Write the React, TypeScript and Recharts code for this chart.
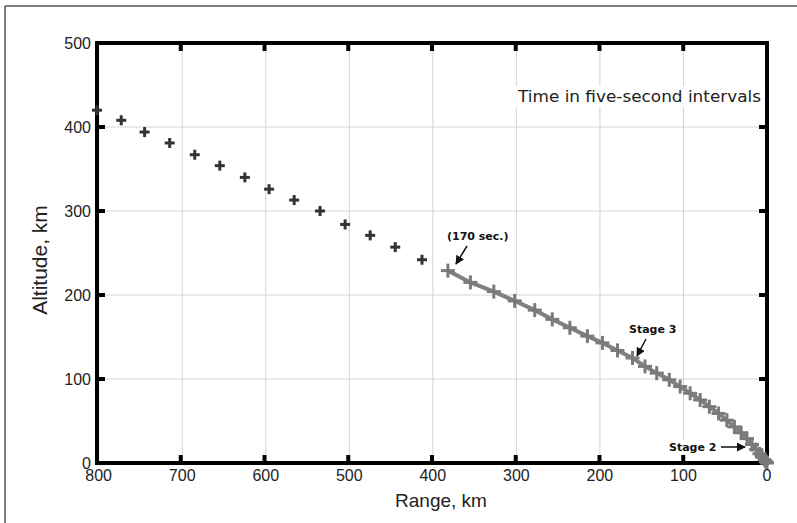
import React from 'react';
import { ScatterChart, Scatter, XAxis, YAxis, CartesianGrid } from 'recharts';

const rangeTicks = [800, 700, 600, 500, 400, 300, 200, 100, 0];
const altitudeTicks = [0, 100, 200, 300, 400, 500];
const innerRangeTicks = [700, 600, 500, 400, 300, 200, 100];
const innerAltitudeTicks = [100, 200, 300, 400];

// coasting phase (dark markers)
const coastRange = [802, 773, 745, 715, 685, 655, 625, 596, 566, 535, 505, 475, 445, 413];
const coastAltitude = [420, 408, 394, 381, 367, 354, 340, 326, 313, 300, 284, 271, 257, 242];

// powered phase (gray line with markers)
const poweredRange = [382, 355, 327, 302, 278, 257, 236, 215, 197, 179, 161, 146, 132, 117, 104, 92, 80, 69, 58, 48, 39, 31, 24, 18, 13, 9, 6, 3, 1.5, 0.5, 0];
const poweredAltitude = [229, 215, 204, 193, 182, 171, 161, 151, 143, 134, 125, 115, 107, 99, 91, 83, 75, 67, 59, 51, 43, 36, 29, 22, 16, 11, 7, 4, 2, 0.5, 0];

const coastData = coastRange.map((r, i) => ({ range: r, altitude: coastAltitude[i] }));
const poweredData = poweredRange.map((r, i) => ({ range: r, altitude: poweredAltitude[i] }));

const annFont = { fontFamily: '"DejaVu Sans", Verdana, sans-serif', fontWeight: 700, fontSize: 11, fill: '#111' };
const labelFamily = '"Liberation Sans", Arial, sans-serif';

const CHART_W = 797;
const CHART_H = 523;
const MARGIN = { top: 43, right: 30, bottom: 30, left: 47 };
const X_AXIS_H = 30;
const Y_AXIS_W = 50;
const PLOT_L = MARGIN.left + Y_AXIS_W;
const PLOT_T = MARGIN.top;
const PLOT_W = CHART_W - MARGIN.left - MARGIN.right - Y_AXIS_W;
const PLOT_H = CHART_H - MARGIN.top - MARGIN.bottom - X_AXIS_H;
const X_MAX = 800;
const Y_MAX = 500;
const TICK_LEN = 8;

const Plus = (size: number, color: string, width: number) => (props: any) => {
  const { cx, cy } = props;
  if (cx == null || cy == null) return null;
  return (
    <g>
      <line x1={cx - size} y1={cy} x2={cx + size} y2={cy} stroke={color} strokeWidth={width} />
      <line x1={cx} y1={cy - size} x2={cx} y2={cy + size} stroke={color} strokeWidth={width} />
    </g>
  );
};

const tickStyle = { fill: '#222', fontSize: 16, fontFamily: labelFamily };
const frameLine = { stroke: '#000', strokeWidth: 4, strokeLinecap: 'square' as const };

// inward tick marks on all four sides of the frame (axis decoration)
const xPos = (v: number) => PLOT_L + ((X_MAX - v) / X_MAX) * PLOT_W;
const yPos = (v: number) => PLOT_T + PLOT_H - (v / Y_MAX) * PLOT_H;

export default function App() {
  return (
    <div style={{ position: 'absolute', left: 0, top: 0, width: CHART_W, height: CHART_H, background: '#fff', overflow: 'hidden' }}>
      <ScatterChart width={CHART_W} height={CHART_H} margin={MARGIN}>
        <defs>
          <marker id="arrowHead" viewBox="0 0 10 10" refX="9" refY="5" markerWidth="6" markerHeight="6" orient="auto">
            <path d="M0,0 L10,5 L0,10 z" fill="#111" />
          </marker>
        </defs>
        <line x1={5} y1={6} x2={5} y2={523} stroke="#555" strokeWidth={1.5} />
        <line x1={5} y1={6} x2={797} y2={6} stroke="#555" strokeWidth={1.5} />
        <CartesianGrid xAxisId="main" yAxisId="main" stroke="#d4d4d4" strokeWidth={1} />
        <XAxis xAxisId="main" type="number" dataKey="range" domain={[0, 800]} reversed ticks={rangeTicks} interval={0}
          tickLine={false} axisLine={frameLine} tick={tickStyle} tickSize={6} tickMargin={1} height={X_AXIS_H} />
        <XAxis xAxisId="top" type="number" dataKey="range" domain={[0, 800]} reversed ticks={rangeTicks} interval={0}
          orientation="top" mirror tick={false} tickLine={false} axisLine={frameLine} />
        <YAxis yAxisId="main" type="number" dataKey="altitude" domain={[0, 500]} ticks={altitudeTicks} interval={0}
          tickLine={false} axisLine={frameLine} tick={tickStyle} tickSize={5} tickMargin={1} width={Y_AXIS_W} />
        <YAxis yAxisId="right" type="number" dataKey="altitude" domain={[0, 500]} ticks={altitudeTicks} interval={0}
          orientation="right" mirror tick={false} tickLine={false} axisLine={frameLine} />
        <Scatter xAxisId="main" yAxisId="main" data={coastData} shape={Plus(5, '#333', 3)} isAnimationActive={false} />
        <Scatter xAxisId="main" yAxisId="main" data={poweredData} line={{ stroke: '#808080', strokeWidth: 4 }} lineType="joint"
          shape={Plus(7, '#7a7a7a', 3)} isAnimationActive={false} />

        {innerRangeTicks.map((v) => (
          <g key={'xt' + v}>
            <line x1={xPos(v)} y1={PLOT_T + PLOT_H} x2={xPos(v)} y2={PLOT_T + PLOT_H - TICK_LEN} stroke="#000" strokeWidth={4} />
            <line x1={xPos(v)} y1={PLOT_T} x2={xPos(v)} y2={PLOT_T + TICK_LEN} stroke="#000" strokeWidth={4} />
          </g>
        ))}
        {innerAltitudeTicks.map((v) => (
          <g key={'yt' + v}>
            <line x1={PLOT_L} y1={yPos(v)} x2={PLOT_L + TICK_LEN} y2={yPos(v)} stroke="#000" strokeWidth={4} />
            <line x1={PLOT_L + PLOT_W} y1={yPos(v)} x2={PLOT_L + PLOT_W - TICK_LEN} y2={yPos(v)} stroke="#000" strokeWidth={4} />
          </g>
        ))}

        <rect x={515} y={86} width={249} height={21} fill="#fff" />
        <text x={761} y={102} textAnchor="end" textLength={243} lengthAdjust="spacingAndGlyphs" fontFamily='"DejaVu Sans", Verdana, sans-serif' fontSize={16.5} fill="#222">Time in five-second intervals</text>

        <text x={447} y={240} {...annFont}>(170 sec.)</text>
        <line x1={467} y1={246} x2={456} y2={264} stroke="#111" strokeWidth={1.5} markerEnd="url(#arrowHead)" />

        <rect x={627} y={322} width={52} height={14} fill="#fff" />
        <text x={629} y={333} {...annFont}>Stage 3</text>
        <line x1={646} y1={339} x2={637} y2={356} stroke="#111" strokeWidth={1.5} markerEnd="url(#arrowHead)" />

        <rect x={667} y={440} width={52} height={14} fill="#fff" />
        <text x={669} y={451} {...annFont}>Stage 2</text>
        <line x1={721} y1={447} x2={745} y2={447} stroke="#111" strokeWidth={1.5} markerEnd="url(#arrowHead)" />

        <text x={441} y={507} textAnchor="middle" fontFamily={labelFamily} fontSize={19} fill="#222">Range, km</text>
        <text x={47} y={260} textAnchor="middle" transform="rotate(-90, 47, 260)" fontFamily={labelFamily} fontSize={21} fill="#222">Altitude, km</text>
      </ScatterChart>
    </div>
  );
}
